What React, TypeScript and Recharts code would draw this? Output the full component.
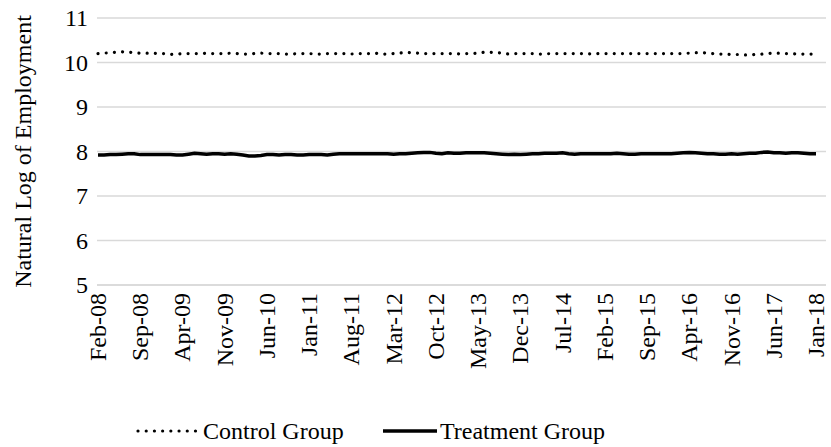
import { LineChart, Line, XAxis, YAxis, CartesianGrid } from "recharts";

const MONTHS = ["Jan", "Feb", "Mar", "Apr", "May", "Jun", "Jul", "Aug", "Sep", "Oct", "Nov", "Dec"];
const YEARS = ["08", "09", "10", "11", "12", "13", "14", "15", "16", "17", "18"];

// Feb-08 .. Jan-18, monthly
const categories: string[] = [];
YEARS.forEach((yy, yi) => {
  MONTHS.forEach((m, mi) => {
    if (yi === 0 && mi < 1) return;
    if (yi === YEARS.length - 1 && mi > 0) return;
    categories.push(`${m}-${yy}`);
  });
});

const controlGroup = [
  10.2, 10.21, 10.22, 10.23, 10.24, 10.23, 10.22, 10.21, 10.21, 10.21,
  10.2, 10.2, 10.18, 10.19, 10.2, 10.2, 10.2, 10.2, 10.21, 10.2,
  10.2, 10.2, 10.21, 10.2, 10.19, 10.19, 10.2, 10.21, 10.2, 10.2,
  10.2, 10.19, 10.19, 10.2, 10.2, 10.2, 10.19, 10.19, 10.2, 10.2,
  10.2, 10.2, 10.19, 10.2, 10.2, 10.2, 10.21, 10.19, 10.19, 10.2,
  10.21, 10.23, 10.22, 10.21, 10.2, 10.2, 10.2, 10.2, 10.2, 10.2,
  10.19, 10.2, 10.2, 10.21, 10.23, 10.23, 10.22, 10.21, 10.19, 10.2,
  10.2, 10.2, 10.2, 10.19, 10.19, 10.2, 10.2, 10.2, 10.2, 10.2,
  10.2, 10.2, 10.19, 10.2, 10.2, 10.2, 10.2, 10.2, 10.2, 10.2,
  10.2, 10.2, 10.2, 10.2, 10.2, 10.2, 10.2, 10.2, 10.21, 10.22,
  10.22, 10.21, 10.2, 10.19, 10.19, 10.18, 10.18, 10.17, 10.17, 10.18,
  10.19, 10.2, 10.21, 10.21, 10.2, 10.2, 10.19, 10.19, 10.19, 10.19,
];

const treatmentGroup = [
  7.92, 7.92, 7.93, 7.93, 7.94, 7.95, 7.95, 7.93, 7.93, 7.93,
  7.93, 7.93, 7.93, 7.92, 7.92, 7.94, 7.96, 7.95, 7.94, 7.95,
  7.95, 7.94, 7.95, 7.94, 7.92, 7.9, 7.9, 7.91, 7.93, 7.93,
  7.92, 7.93, 7.93, 7.92, 7.92, 7.93, 7.93, 7.93, 7.92, 7.94,
  7.95, 7.95, 7.95, 7.95, 7.95, 7.95, 7.95, 7.95, 7.95, 7.94,
  7.95, 7.95, 7.96, 7.97, 7.98, 7.98, 7.96, 7.95, 7.97, 7.96,
  7.96, 7.97, 7.97, 7.97, 7.97, 7.96, 7.95, 7.94, 7.93, 7.94,
  7.93, 7.94, 7.95, 7.95, 7.96, 7.96, 7.96, 7.97, 7.95, 7.94,
  7.95, 7.95, 7.95, 7.95, 7.95, 7.95, 7.96, 7.95, 7.94, 7.94,
  7.95, 7.95, 7.95, 7.95, 7.95, 7.95, 7.96, 7.97, 7.98, 7.97,
  7.96, 7.95, 7.95, 7.94, 7.94, 7.95, 7.94, 7.95, 7.96, 7.96,
  7.98, 7.99, 7.97, 7.97, 7.96, 7.97, 7.97, 7.96, 7.95, 7.95,
];

const yTicks = [5, 6, 7, 8, 9, 10, 11];

const data = categories.map((month, i) => ({
  month,
  control: controlGroup[i],
  treatment: treatmentGroup[i],
}));

const FONT = "Liberation Serif, Times New Roman, serif";
const FONT_SIZE = 24;
const textStyle = { fontFamily: FONT, fontSize: FONT_SIZE };

const XTick = ({ x, y, payload }: any) => (
  <g transform={`translate(${x},${y})`}>
    <text
      transform="rotate(-90)"
      x={-8}
      y={0}
      textAnchor="end"
      dominantBaseline="central"
      style={textStyle}
      fill="#000"
    >
      {payload.value}
    </text>
  </g>
);

const YTick = ({ x, y, payload }: any) => (
  <text x={x} y={y} textAnchor="end" dominantBaseline="central" style={textStyle} fill="#000">
    {payload.value}
  </text>
);

export default function App() {
  return (
    <div style={{ position: "relative", width: 831, height: 447, background: "#fff", fontFamily: FONT }}>
      <style>{"body{margin:0}"}</style>
      <LineChart
        width={831}
        height={447}
        data={data}
        margin={{ top: 18, right: 5, left: 0, bottom: 82 }}
      >
        <CartesianGrid vertical={false} stroke="#d9d9d9" strokeWidth={1.5} />
        <XAxis
          dataKey="month"
          interval={6}
          height={80}
          padding={{ left: 1, right: 10 }}
          tickLine={false}
          tickSize={0}
          tickMargin={0}
          axisLine={{ stroke: "#d9d9d9", strokeWidth: 1.5 }}
          tick={<XTick />}
        />
        <YAxis
          domain={[5, 11]}
          ticks={yTicks}
          width={97}
          axisLine={false}
          tickLine={false}
          tickSize={0}
          tickMargin={9}
          tick={<YTick />}
          label={({ viewBox }: any) => {
            const cy = viewBox.y + viewBox.height / 2;
            return (
              <text
                x={23}
                y={cy}
                transform={`rotate(-90, 23, ${cy})`}
                textAnchor="middle"
                dominantBaseline="central"
                style={textStyle}
                fill="#000"
              >
                Natural Log of Employment
              </text>
            );
          }}
        />
        <Line
          type="linear"
          dataKey="control"
          stroke="#000"
          strokeWidth={3.2}
          strokeDasharray="0.01 8.2"
          strokeLinecap="round"
          dot={false}
          isAnimationActive={false}
        />
        <Line
          type="linear"
          dataKey="treatment"
          stroke="#000"
          strokeWidth={3.5}
          dot={false}
          isAnimationActive={false}
        />
      </LineChart>
      <svg
        width={831}
        height={447}
        style={{ position: "absolute", left: 0, top: 0, pointerEvents: "none" }}
      >
        <line x1={138} y1={431} x2={197} y2={431} stroke="#000" strokeWidth={3.2} strokeDasharray="0.01 8.2" strokeLinecap="round" />
        <text x={203} y={431} dominantBaseline="central" style={textStyle} fill="#000">
          Control Group
        </text>
        <line x1={383} y1={431} x2={437} y2={431} stroke="#000" strokeWidth={3.5} />
        <text x={440} y={431} dominantBaseline="central" style={textStyle} fill="#000">
          Treatment Group
        </text>
      </svg>
    </div>
  );
}
